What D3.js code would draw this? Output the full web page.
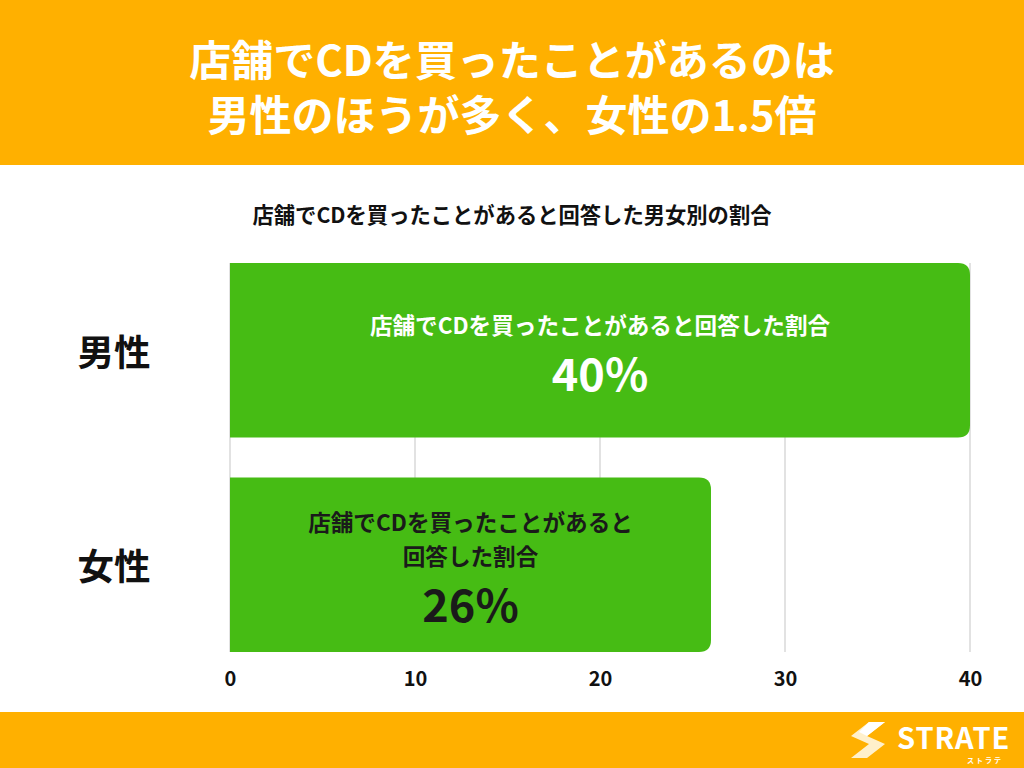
<!DOCTYPE html>
<html><head><meta charset="utf-8">
<script src="https://cdn.jsdelivr.net/npm/d3@7"></script>
<style>
html,body{margin:0;padding:0;background:#fff;}
text{font-family:"Noto Sans CJK JP","Noto Sans",sans-serif;font-weight:bold;}
</style></head>
<body>
<svg id="c" width="1024" height="768"></svg>
<script>
const titleLines = ["店舗でCDを買ったことがあるのは", "男性のほうが多く、女性の1.5倍"];
const subtitle = "店舗でCDを買ったことがあると回答した男女別の割合";
const categories = ["男性", "女性"];
const values = [40, 26];
const barLabels = [["店舗でCDを買ったことがあると回答した割合"], ["店舗でCDを買ったことがあると", "回答した割合"]];
const tickValues = [0, 10, 20, 30, 40];

const svg = d3.select("#c");
const W = 1024, H = 768;
const orange = "#FFB000", green = "#46BC14";

svg.append("rect").attr("x",0).attr("y",0).attr("width",W).attr("height",165).attr("fill",orange);
svg.append("rect").attr("x",0).attr("y",712).attr("width",W).attr("height",56).attr("fill",orange);

svg.selectAll("text.title").data(titleLines).enter().append("text")
  .attr("class","title").attr("x",512).attr("y",(d,i)=>57+i*55)
  .attr("text-anchor","middle").attr("dominant-baseline","central")
  .attr("fill","#fff").attr("font-size",42).text(d=>d);

svg.append("text").attr("x",512).attr("y",213).attr("text-anchor","middle")
  .attr("dominant-baseline","central").attr("fill","#111").attr("font-size",21.3).text(subtitle);

const x = d3.scaleLinear().domain([0,40]).range([230,970]);
const y = d3.scaleBand().domain(categories).range([243,672]).paddingInner(0.186).paddingOuter(0.093);

// gridlines
svg.append("g").selectAll("line").data(tickValues).enter().append("line")
  .attr("x1",d=>x(d)).attr("x2",d=>x(d)).attr("y1",263).attr("y2",652)
  .attr("stroke","#d9d9d9").attr("stroke-width",1.5);

// bars with rounded right corners
const r = 12;
function barPath(x0,x1,y0,h){
  const rr = Math.min(r,(x1-x0));
  return `M${x0},${y0}H${x1-rr}Q${x1},${y0} ${x1},${y0+rr}V${y0+h-rr}Q${x1},${y0+h} ${x1-rr},${y0+h}H${x0}Z`;
}
svg.append("g").selectAll("path").data(values).enter().append("path")
  .attr("d",(d,i)=>barPath(x(0),x(d),y(categories[i]),y.bandwidth()))
  .attr("fill",green);

// category labels
svg.append("g").selectAll("text").data(categories).enter().append("text")
  .attr("x",114).attr("y",d=>y(d)+y.bandwidth()/2)
  .attr("text-anchor","middle").attr("dominant-baseline","central")
  .attr("font-size",36.5).attr("fill","#111").text(d=>d);

// inner labels
const labelColors = ["#fff","#1a1a1a"];
values.forEach((v,i)=>{
  const cx = (x(0)+x(v))/2;
  const cy = y(categories[i])+y.bandwidth()/2;
  const lines = barLabels[i];
  const g = svg.append("g");
  const lh = 34;
  const pctGap = 47;
  const total = (lines.length-1)*lh + pctGap;
  const top = cy - total/2 - 2.5;
  lines.forEach((t,j)=>{
    g.append("text").attr("x",cx).attr("y",top+j*lh).attr("text-anchor","middle")
      .attr("dominant-baseline","central").attr("font-size",22.6).attr("fill",labelColors[i]).text(t);
  });
  g.append("text").attr("x",cx).attr("y",top+(lines.length-1)*lh+pctGap).attr("text-anchor","middle")
    .attr("dominant-baseline","central").attr("font-size",45).attr("fill",labelColors[i]).text(v+"%");
});

// x axis
const ax = svg.append("g").attr("transform","translate(0,679)")
  .call(d3.axisBottom(x).tickValues(tickValues).tickSize(0).tickPadding(0));
ax.select(".domain").remove();
ax.selectAll("text").attr("font-size",20).attr("fill","#111")
  .attr("font-family","\"Noto Sans CJK JP\",sans-serif").attr("font-weight","bold")
  .attr("dy","0.35em").attr("y",0);

// logo
const lg = svg.append("g").attr("transform","translate(851,722)");
lg.append("path").attr("d","M18,0 L34,0 L16,14 L34,22 L16,36 L0,36 L18,22 L0,14 Z").attr("fill","#FFF3D6").attr("opacity",0.95);
lg.append("path").attr("d","M18,0 L34,0 L16,14 L8,10 Z").attr("fill","#fff");
lg.append("text").attr("x",46).attr("y",27).attr("font-size",29).attr("fill","#fff")
  .attr("font-family","\"Noto Sans\",sans-serif").attr("font-weight","bold").attr("letter-spacing",1).text("STRATE");
lg.append("text").attr("x",116).attr("y",41).attr("font-size",7).attr("fill","#fff").attr("letter-spacing",2).text("ストラテ");
</script>
</body></html>
